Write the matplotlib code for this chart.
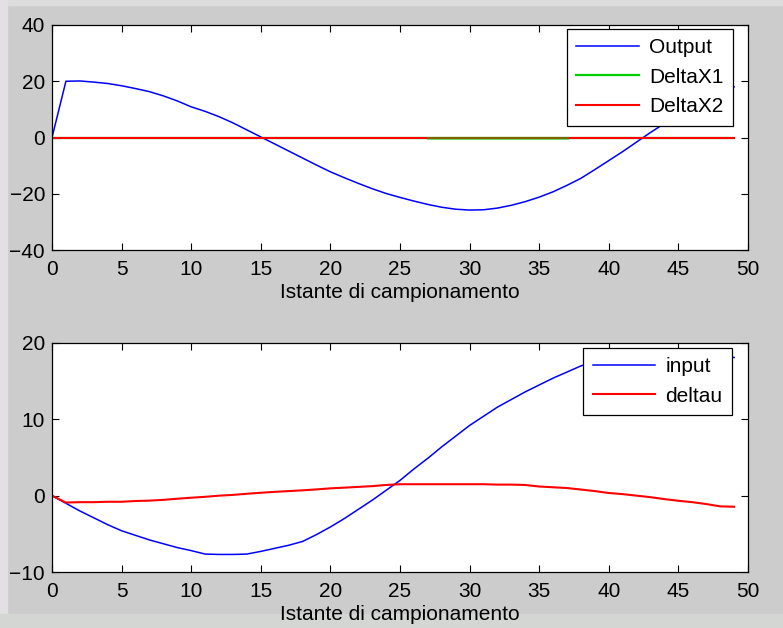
import matplotlib.pyplot as plt
from matplotlib.patches import Rectangle
import numpy as np

plt.rcParams['font.family'] = ['Liberation Sans', 'DejaVu Sans']

# sampling instants
k = list(range(50))

output = [0, 20, 20.1, 19.7, 19.2, 18.4, 17.4, 16.3, 14.8, 13.0,
          10.9, 9.3, 7.4, 5.2, 2.7, 0.2, -2.3, -4.8, -7.3, -9.8,
          -12.2, -14.3, -16.3, -18.2, -19.9, -21.3, -22.6, -23.8, -24.8, -25.5,
          -25.8, -25.7, -25.1, -24.1, -22.8, -21.2, -19.3, -17.0, -14.5, -11.4,
          -8.2, -5.0, -1.6, 1.8, 5.0, 8.0, 11.0, 13.8, 16.2, 18.0]
delta_x2 = [0] * 50
# only the stretch of DeltaX1 that shows beside DeltaX2
delta_x1 = [np.nan] * 27 + [0] * 11 + [np.nan] * 12

u_input = [0, -1.0, -2.0, -2.9, -3.8, -4.6, -5.2, -5.8, -6.3, -6.8,
           -7.2, -7.65, -7.7, -7.7, -7.65, -7.3, -6.9, -6.5, -6.0, -5.1,
           -4.1, -3.0, -1.8, -0.6, 0.7, 2.0, 3.5, 4.9, 6.4, 7.8,
           9.2, 10.4, 11.6, 12.6, 13.6, 14.5, 15.4, 16.2, 17.0, 17.6,
           18.1, 18.5, 18.8, 19.0, 19.1, 19.1, 19.0, 18.8, 18.5, 18.1]
deltau = [0, -0.9, -0.85, -0.85, -0.8, -0.8, -0.7, -0.65, -0.55, -0.4,
          -0.27, -0.15, 0.0, 0.1, 0.25, 0.38, 0.5, 0.6, 0.7, 0.82,
          0.96, 1.05, 1.15, 1.25, 1.4, 1.5, 1.5, 1.5, 1.5, 1.5,
          1.5, 1.5, 1.45, 1.45, 1.4, 1.2, 1.1, 1.0, 0.8, 0.6,
          0.35, 0.2, 0.0, -0.2, -0.45, -0.67, -0.85, -1.1, -1.4, -1.45]

W, H = 783, 628
fig = plt.figure(figsize=(W / 100, H / 100), dpi=100, facecolor='#cccccc')

# lighter window edge around the screenshot
fig.patches.append(Rectangle((0, 1 - 5 / H), 1, 5 / H, transform=fig.transFigure,
                             color='#dcdcdc', zorder=-1))
fig.patches.append(Rectangle((0, 0), 7 / W, 1, transform=fig.transFigure,
                             color='#e2e0e2', zorder=-1))
fig.patches.append(Rectangle((0, 0), 1, 14 / H, transform=fig.transFigure,
                             color='#d4d6d4', zorder=-1))

ax1 = fig.add_axes([52 / W, 1 - 250 / H, 696 / W, 225 / H])
ax2 = fig.add_axes([52 / W, 1 - 572 / H, 696 / W, 229 / H])

ax1.plot(k, output, color='#0000ff', lw=1.1, label='Output')
ax1.plot(k, [0] * 50, color='#00d000', lw=1.6, label='DeltaX1')
ax1.plot(k, delta_x2, color='#ff0000', lw=1.5, label='DeltaX2')
ax1.plot(k, delta_x1, color='#00c000', lw=2.2, alpha=0.5, zorder=3)
ax1.set_ylim(-40, 40)
ax1.set_yticks([-40, -20, 0, 20, 40])

ax2.plot(k, u_input, color='#0000ff', lw=1.1, label='input')
ax2.plot(k, deltau, color='#ff0000', lw=1.5, label='deltau')
ax2.set_ylim(-10, 20)
ax2.set_yticks([-10, 0, 10, 20])

legend_anchor = {ax1: (733 / W, 1 - 29 / H), ax2: (732 / W, 1 - 348 / H)}

for ax in (ax1, ax2):
    ax.set_xlim(0, 50)
    ax.set_xticks(range(0, 51, 5))
    ax.tick_params(direction='in', length=5, width=0.8, top=True, right=True,
                   labelsize=15, colors='black')
    ax.tick_params(axis='x', pad=7)
    ax.tick_params(axis='y', pad=5)
    ax.set_xlabel('Istante di campionamento', fontsize=15, labelpad=3)
    for s in ax.spines.values():
        s.set_linewidth(0.9)
    leg = ax.legend(loc='upper right', bbox_to_anchor=legend_anchor[ax],
                    bbox_transform=fig.transFigure, fontsize=15,
                    fancybox=False, framealpha=1, edgecolor='black',
                    borderaxespad=0, handlelength=3.0, labelspacing=0.5,
                    borderpad=0.45, handletextpad=0.5)
    leg.get_frame().set_linewidth(0.9)

fig.savefig('out.png', dpi=100, facecolor=fig.get_facecolor())
